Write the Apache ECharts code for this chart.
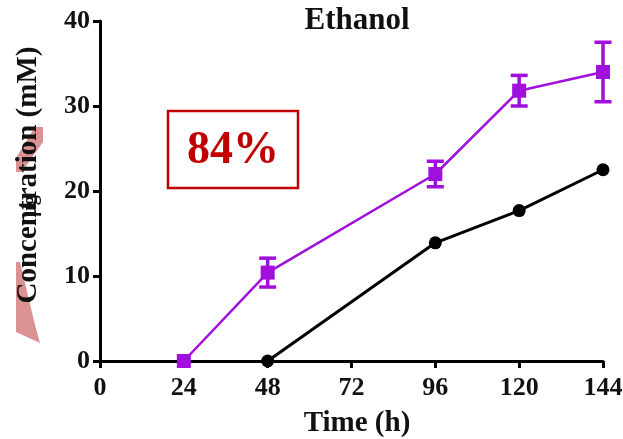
<!DOCTYPE html>
<html>
<head>
<meta charset="utf-8">
<script src="https://cdn.jsdelivr.net/npm/echarts@6/dist/echarts.min.js"></script>
<style>
  html, body { margin: 0; padding: 0; background: #fff; }
  #chart { width: 623px; height: 439px; }
</style>
</head>
<body>
<div id="chart"></div>
<script>
// Ethanol concentration over time (mM)
const xTicks = [0, 24, 48, 72, 96, 120, 144];
const yTicks = [0, 10, 20, 30, 40];

const hoursTreated = [24, 48, 96, 120, 144];
const ethanolTreated = [0, 10.4, 22.0, 31.8, 34.0];
const ethanolTreatedErr = [0, 1.7, 1.5, 1.8, 3.5];

const hoursControl = [48, 96, 120, 144];
const ethanolControl = [0, 13.9, 17.7, 22.5];

const titleText = 'Ethanol';
const xName = 'Time (h)';
const yName = 'Concentration (mM)';
const badgeText = '84%';

const serif = 'Liberation Serif';
const purple = '#a010dc';
const red = '#c00000';
const ink = '#111';

const chart = echarts.init(document.getElementById('chart'));

const errData = hoursTreated.map((h, i) => [h, ethanolTreated[i] - ethanolTreatedErr[i], ethanolTreated[i] + ethanolTreatedErr[i]]);

const labelStyle = { fontFamily: serif, fontWeight: 'bold', fontSize: 26, color: ink };

chart.setOption({
  animation: false,
  backgroundColor: '#fff',
  grid: { left: 100, right: 20, top: 21, bottom: 78, containLabel: false, outerBoundsMode: 'none' },
  xAxis: {
    type: 'value', min: 0, max: 144, interval: 24,
    axisLine: { show: true, lineStyle: { color: '#000', width: 3 } },
    axisTick: { show: true, length: 7, lineStyle: { color: '#000', width: 3 } },
    axisLabel: Object.assign({ margin: 14, formatter: v => xTicks.includes(v) ? String(v) : '' }, labelStyle),
    splitLine: { show: false }
  },
  yAxis: {
    type: 'value', min: 0, max: 40, interval: 10,
    axisLine: { show: true, lineStyle: { color: '#000', width: 3 } },
    axisTick: { show: true, length: 7, lineStyle: { color: '#000', width: 3 } },
    axisLabel: Object.assign({ margin: 10, formatter: v => yTicks.includes(v) ? String(v) : '' }, labelStyle),
    splitLine: { show: false }
  },
  graphic: [
    // pink fragments behind the axis title
    { type: 'polygon', z: 0, shape: { points: [[35, 127], [43, 127], [43, 142], [22, 172], [16, 172], [16, 158]] },
      style: { fill: 'rgba(205,110,110,0.75)' } },
    { type: 'polygon', z: 0, shape: { points: [[16, 262], [20, 262], [35, 325], [40, 343], [16, 332]] },
      style: { fill: 'rgba(205,110,110,0.75)' } },
    { type: 'text', z: 10, x: 357, y: 20.5,
      style: { text: titleText, fontFamily: serif, fontWeight: 'bold', fontSize: 31, fill: ink,
        align: 'center', verticalAlign: 'middle' } },
    { type: 'text', z: 10, x: 357, y: 424,
      style: { text: xName, fontFamily: serif, fontWeight: 'bold', fontSize: 29, fill: ink,
        align: 'center', verticalAlign: 'middle' } },
    { type: 'text', z: 10, x: 29, y: 175, rotation: Math.PI / 2,
      style: { text: yName, fontFamily: serif, fontWeight: 'bold', fontSize: 29, fill: ink,
        align: 'center', verticalAlign: 'middle' } },
    { type: 'text', z: 10, x: 31, y: 206, rotation: Math.PI / 2,
      style: { text: 'μg', fontFamily: serif, fontWeight: 'bold', fontSize: 20, fill: ink,
        align: 'center', verticalAlign: 'middle' } },
    { type: 'rect', z: 10, shape: { x: 168, y: 111, width: 130, height: 77 },
      style: { fill: '#fff', stroke: red, lineWidth: 2.5 } },
    { type: 'text', z: 11, x: 233, y: 151,
      style: { text: badgeText, fontFamily: serif, fontWeight: 'bold', fontSize: 46, fill: red,
        align: 'center', verticalAlign: 'middle' } }
  ],
  series: [
    {
      type: 'line', name: 'control',
      data: hoursControl.map((h, i) => [h, ethanolControl[i]]),
      symbol: 'circle', symbolSize: 13,
      itemStyle: { color: '#000' },
      lineStyle: { color: '#000', width: 3 },
      z: 3
    },
    {
      type: 'custom', name: 'treated error',
      data: errData,
      renderItem: (params, api) => {
        const x = api.value(0);
        const lo = api.coord([x, api.value(1)]);
        const hi = api.coord([x, api.value(2)]);
        if (Math.abs(hi[1] - lo[1]) < 1) return { type: 'group', children: [] };
        const cap = 8.5;
        const st = { stroke: purple, lineWidth: 3.5 };
        return {
          type: 'group',
          children: [
            { type: 'line', shape: { x1: lo[0], y1: lo[1], x2: hi[0], y2: hi[1] }, style: st },
            { type: 'line', shape: { x1: hi[0] - cap, y1: hi[1], x2: hi[0] + cap, y2: hi[1] }, style: st },
            { type: 'line', shape: { x1: lo[0] - cap, y1: lo[1], x2: lo[0] + cap, y2: lo[1] }, style: st }
          ]
        };
      },
      z: 4
    },
    {
      type: 'line', name: 'treated',
      data: hoursTreated.map((h, i) => [h, ethanolTreated[i]]),
      symbol: 'rect', symbolSize: 14,
      itemStyle: { color: purple },
      lineStyle: { color: purple, width: 2.5 },
      z: 5
    }
  ]
});
</script>
</body>
</html>
